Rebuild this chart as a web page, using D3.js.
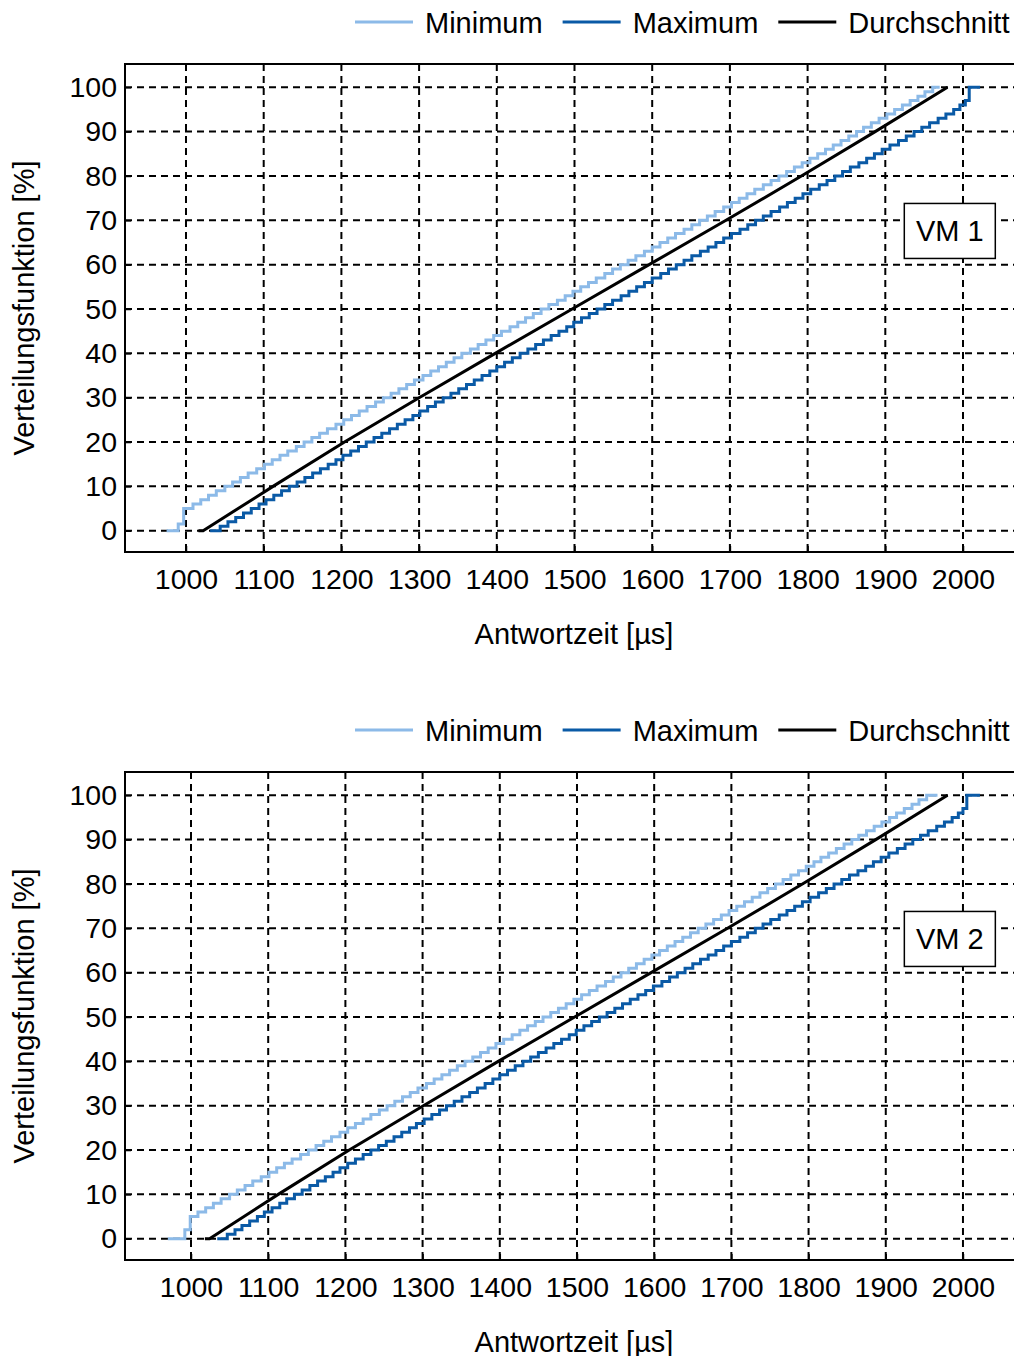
<!DOCTYPE html>
<html>
<head>
<meta charset="utf-8">
<script src="https://cdn.jsdelivr.net/npm/d3@7"></script>
<style>
  body { margin: 0; background: #fff; }
  text { font-family: "Liberation Sans", Arial, sans-serif; }
</style>
</head>
<body>
<div id="chart"></div>
<script>
// tick labels and legend
var xTicks = [1000, 1100, 1200, 1300, 1400, 1500, 1600, 1700, 1800, 1900, 2000];
var yTicks = [0, 10, 20, 30, 40, 50, 60, 70, 80, 90, 100];
var seriesNames = ["Minimum", "Maximum", "Durchschnitt"];
var panelNames = ["VM 1", "VM 2"];

// [Antwortzeit µs, Verteilungsfunktion %] at 1% steps
var vm1Min = [[975,0],[990,1.5],[997,5],[1009,6],[1019,7],[1029,8],[1039,9],[1050,10],
  [1060,11],[1070,12],[1080,13],[1091,14],[1101,15],[1111,16],[1121,17],[1131,18],[1142,19],[1152,20],
  [1162,21],[1172,22],[1182,23],[1193,24],[1203,25],[1213,26],[1223,27],[1233,28],[1244,29],[1254,30],
  [1264,31],[1274,32],[1284,33],[1294,34],[1305,35],[1315,36],[1325,37],[1335,38],[1345,39],[1355,40],
  [1366,41],[1376,42],[1386,43],[1396,44],[1406,45],[1417,46],[1427,47],[1437,48],[1447,49],[1457,50],
  [1467,51],[1478,52],[1488,53],[1498,54],[1508,55],[1518,56],[1528,57],[1539,58],[1549,59],[1559,60],
  [1569,61],[1579,62],[1590,63],[1600,64],[1610,65],[1620,66],[1630,67],[1641,68],[1651,69],[1661,70],
  [1671,71],[1681,72],[1692,73],[1702,74],[1712,75],[1722,76],[1732,77],[1743,78],[1753,79],[1763,80],
  [1773,81],[1783,82],[1793,83],[1803,84],[1813,85],[1823,86],[1833,87],[1843,88],[1853,89],[1863,90],
  [1872,91],[1882,92],[1892,93],[1902,94],[1912,95],[1922,96],[1932,97],[1942,98],[1951,99],[1961,100],
  [1970,100]];
var vm1Max = [[1031,0],[1044,1],[1054,2],[1064,3],[1074,4],[1084,5],[1094,6],[1103,7],[1113,8],[1123,9],[1133,10],
  [1143,11],[1153,12],[1163,13],[1173,14],[1183,15],[1193,16],[1202,17],[1212,18],[1222,19],[1232,20],
  [1242,21],[1252,22],[1262,23],[1272,24],[1282,25],[1292,26],[1301,27],[1311,28],[1321,29],[1331,30],
  [1341,31],[1351,32],[1361,33],[1371,34],[1381,35],[1391,36],[1400,37],[1410,38],[1420,39],[1430,40],
  [1440,41],[1450,42],[1460,43],[1470,44],[1480,45],[1490,46],[1499,47],[1509,48],[1519,49],[1529,50],
  [1539,51],[1549,52],[1560,53],[1570,54],[1580,55],[1590,56],[1600,57],[1611,58],[1621,59],[1631,60],
  [1641,61],[1651,62],[1662,63],[1672,64],[1682,65],[1692,66],[1702,67],[1713,68],[1723,69],[1733,70],
  [1743,71],[1753,72],[1764,73],[1774,74],[1784,75],[1794,76],[1804,77],[1815,78],[1825,79],[1835,80],
  [1845,81],[1855,82],[1866,83],[1876,84],[1886,85],[1896,86],[1906,87],[1917,88],[1927,89],[1937,90],
  [1947,91],[1957,92],[1968,93],[1978,94],[1988,95],[1996,96],[2003,97],[2008,100],[2022,100]];
var vm1Mean = [[1016,0],[1022,0],[1112,10],[1204,20],[1300,30],[1398,40],[1497,50],[1596,60],
  [1695,70],[1792,80],[1887,90],[1980,100]];

var vm2Min = [[970,0],[992,2],[999,5],[1009,6],[1019,7],[1029,8],[1039,9],[1050,10],
  [1060,11],[1070,12],[1080,13],[1091,14],[1101,15],[1111,16],[1121,17],[1131,18],[1142,19],[1152,20],
  [1162,21],[1172,22],[1182,23],[1193,24],[1203,25],[1213,26],[1223,27],[1233,28],[1244,29],[1254,30],
  [1264,31],[1274,32],[1284,33],[1294,34],[1305,35],[1315,36],[1325,37],[1335,38],[1345,39],[1355,40],
  [1365,41],[1375,42],[1385,43],[1395,44],[1405,45],[1416,46],[1426,47],[1436,48],[1446,49],[1456,50],
  [1466,51],[1476,52],[1486,53],[1496,54],[1506,55],[1516,56],[1526,57],[1537,58],[1547,59],[1557,60],
  [1567,61],[1577,62],[1587,63],[1597,64],[1607,65],[1617,66],[1627,67],[1637,68],[1647,69],[1657,70],
  [1667,71],[1677,72],[1687,73],[1697,74],[1707,75],[1717,76],[1727,77],[1737,78],[1747,79],[1757,80],
  [1767,81],[1777,82],[1787,83],[1797,84],[1807,85],[1816,86],[1826,87],[1836,88],[1846,89],[1856,90],
  [1865,91],[1875,92],[1885,93],[1895,94],[1905,95],[1914,96],[1924,97],[1934,98],[1943,99],[1953,100],
  [1967,100]];
var vm2Max = [[1034,0],[1047,1],[1057,2],[1066,3],[1076,4],[1086,5],[1095,6],[1105,7],[1115,8],[1124,9],[1134,10],
  [1144,11],[1154,12],[1164,13],[1174,14],[1184,15],[1193,16],[1203,17],[1213,18],[1223,19],[1233,20],
  [1243,21],[1253,22],[1263,23],[1273,24],[1283,25],[1292,26],[1302,27],[1312,28],[1322,29],[1331,30],
  [1341,31],[1351,32],[1361,33],[1371,34],[1381,35],[1391,36],[1400,37],[1410,38],[1420,39],[1430,40],
  [1440,41],[1450,42],[1460,43],[1470,44],[1480,45],[1490,46],[1499,47],[1509,48],[1519,49],[1529,50],
  [1539,51],[1549,52],[1559,53],[1569,54],[1579,55],[1589,56],[1599,57],[1610,58],[1620,59],[1630,60],
  [1640,61],[1650,62],[1660,63],[1670,64],[1680,65],[1690,66],[1700,67],[1711,68],[1721,69],[1731,70],
  [1741,71],[1751,72],[1762,73],[1772,74],[1782,75],[1792,76],[1802,77],[1813,78],[1823,79],[1833,80],
  [1843,81],[1853,82],[1864,83],[1874,84],[1884,85],[1894,86],[1904,87],[1915,88],[1925,89],[1935,90],
  [1945,91],[1955,92],[1966,93],[1976,94],[1986,95],[1994,96],[2000,97],[2005,100],[2022,100]];
var vm2Mean = [[1018,0],[1024,0],[1113,10],[1205,20],[1301,30],[1398,40],[1497,50],[1596,60],
  [1695,70],[1792,80],[1887,90],[1980,100]];

var colors = ["#8cbae8", "#0a5aa6", "#000000"];
var yDomain = [-4.8, 105.25];

var W = 1014, H = 1356;
var svg = d3.select("#chart").append("svg").attr("width", W).attr("height", H);

function drawPanel(idx, top, xDomain, series, labelPos) {
  var g = svg.append("g").attr("transform", "translate(0," + top + ")");
  var left = 125, right = 1016, pt = 64, pb = 552;
  var x = d3.scaleLinear().domain(xDomain).range([left, right]);
  var y = d3.scaleLinear().domain(yDomain).range([pb, pt]);

  g.append("clipPath").attr("id", "clip" + idx)
    .append("rect").attr("x", left).attr("y", pt).attr("width", right - left).attr("height", pb - pt);

  // grid
  var grid = g.append("g").attr("stroke", "#000").attr("stroke-width", 2).attr("stroke-dasharray", "7,5");
  grid.selectAll(".gx").data(xTicks).enter().append("line")
    .attr("x1", d => x(d)).attr("x2", d => x(d)).attr("y1", pt).attr("y2", pb);
  grid.selectAll(".gy").data(yTicks).enter().append("line")
    .attr("y1", d => y(d)).attr("y2", d => y(d)).attr("x1", left).attr("x2", right);

  // curves
  var plot = g.append("g").attr("clip-path", "url(#clip" + idx + ")");
  var step = d3.line().x(d => x(d[0])).y(d => y(d[1])).curve(d3.curveStepAfter);
  var lin = d3.line().x(d => x(d[0])).y(d => y(d[1]));
  plot.append("path").attr("d", step(series[0])).attr("fill", "none")
    .attr("stroke", colors[0]).attr("stroke-width", 3);
  plot.append("path").attr("d", step(series[1])).attr("fill", "none")
    .attr("stroke", colors[1]).attr("stroke-width", 3);
  plot.append("path").attr("d", lin(series[2])).attr("fill", "none")
    .attr("stroke", colors[2]).attr("stroke-width", 3);

  // axes
  var ax = g.append("g").attr("transform", "translate(0," + pb + ")")
    .call(d3.axisBottom(x).tickValues(xTicks).tickFormat(d3.format("d")).tickSize(-6).tickPadding(17));
  var ay = g.append("g").attr("transform", "translate(" + left + ",0)")
    .call(d3.axisLeft(y).tickValues(yTicks).tickFormat(d3.format("d")).tickSize(-6).tickPadding(8));
  [ax, ay].forEach(function (a) {
    a.select(".domain").remove();
    a.selectAll("line").attr("stroke", "#000").attr("stroke-width", 1.5);
    a.selectAll("text").attr("fill", "#000").style("font-size", "28.5px")
      .style("font-family", "'Liberation Sans', Arial, sans-serif");
  });

  // frame
  g.append("rect").attr("x", left).attr("y", pt).attr("width", right - left).attr("height", pb - pt)
    .attr("fill", "none").attr("stroke", "#000").attr("stroke-width", 2);

  // axis titles
  g.append("text").attr("x", 574).attr("y", 644).attr("text-anchor", "middle")
    .style("font-size", "29px").text("Antwortzeit [µs]");
  g.append("text").attr("transform", "translate(34," + ((pt + pb) / 2) + ") rotate(-90)")
    .attr("text-anchor", "middle").style("font-size", "29px").text("Verteilungsfunktion [%]");

  // VM label box
  var bx = x(labelPos[0]), by = y(labelPos[1]);
  g.append("rect").attr("x", bx - 45.5).attr("y", by - 27.5).attr("width", 91).attr("height", 55)
    .attr("fill", "#fff").attr("stroke", "#000").attr("stroke-width", 1.5);
  g.append("text").attr("x", bx).attr("y", by + 10.5).attr("text-anchor", "middle")
    .style("font-size", "29px").text(panelNames[idx]);

  // legend
  var leg = g.append("g").attr("transform", "translate(0,22)");
  var lx = 355;
  seriesNames.forEach(function (name, i) {
    leg.append("line").attr("x1", lx).attr("x2", lx + 58).attr("y1", 0).attr("y2", 0)
      .attr("stroke", colors[i]).attr("stroke-width", 3);
    var t = leg.append("text").attr("x", lx + 70).attr("y", 10.5).style("font-size", "29px").text(name);
    lx += 70 + t.node().getComputedTextLength() + 20;
  });
}

drawPanel(0, 0, [921.5, 2068.2], [vm1Min, vm1Max, vm1Mean], [1983, 67.6]);
drawPanel(1, 708, [914.5, 2068.7], [vm2Min, vm2Max, vm2Mean], [1983, 67.6]);
</script>
</body>
</html>
